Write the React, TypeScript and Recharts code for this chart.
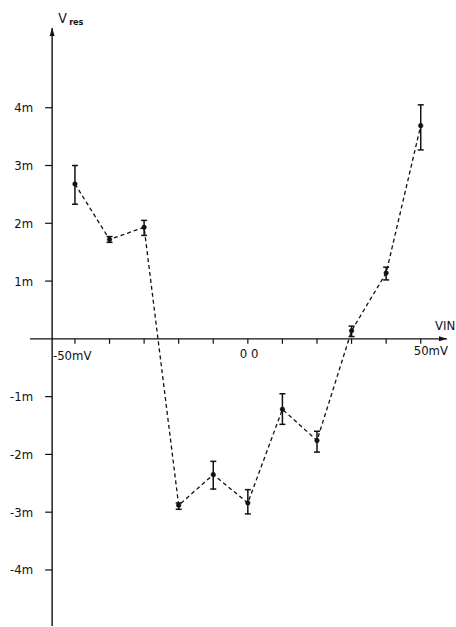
import React from "react";
import { ComposedChart, Line, XAxis, YAxis, ErrorBar, ReferenceLine, ReferenceDot } from "recharts";

const vin = [-50, -40, -30, -20, -10, 0, 10, 20, 30, 40, 50];
const vres = [2.68, 1.72, 1.93, -2.88, -2.35, -2.84, -1.22, -1.76, 0.14, 1.14, 3.69];
const errLow = [0.35, 0.05, 0.14, 0.07, 0.25, 0.19, 0.26, 0.2, 0.1, 0.12, 0.42];
const errHigh = [0.32, 0.05, 0.12, 0.04, 0.23, 0.23, 0.27, 0.16, 0.08, 0.1, 0.36];
const yTicks = [4, 3, 2, 1, -1, -2, -3, -4];
const yTickLabels = ["4m", "3m", "2m", "1m", "-1m", "-2m", "-3m", "-4m"];
const xTicks = [-50, -40, -30, -20, -10, 0, 10, 20, 30, 40, 50];
const xLabels: { v: number; text: string; dx: number; dy: number }[] = [
  { v: -50, text: "-50mV", dx: -22, dy: 21 },
  { v: 0, text: "0 0", dx: -8, dy: 19 },
  { v: 50, text: "50mV", dx: -7, dy: 16 },
];

const data = vin.map((x, i) => ({ x, y: vres[i], err: [errLow[i], errHigh[i]] }));

const X_DOMAIN: [number, number] = [-63, 57.6];
const Y_DOMAIN: [number, number] = [-4.97, 5.38];
const Y_AXIS_AT = -56.6;
const FONT = "'DejaVu Sans Condensed', 'DejaVu Sans', sans-serif";
const INK = "#111";

export default function App() {
  return (
    <div style={{ position: "absolute", left: 0, top: 0, width: 456, height: 627, background: "#fff" }}>
      <ComposedChart width={456} height={627} data={data} margin={{ top: 28, right: 9, bottom: 1, left: 30 }}>
        <XAxis dataKey="x" type="number" domain={X_DOMAIN} hide allowDataOverflow />
        <YAxis type="number" domain={Y_DOMAIN} hide allowDataOverflow />
        <ReferenceLine y={0} stroke={INK} strokeWidth={1.4} />
        <ReferenceLine x={Y_AXIS_AT} stroke={INK} strokeWidth={1.4} />
        <ReferenceDot
          x={Y_AXIS_AT}
          y={Y_DOMAIN[1]}
          ifOverflow="visible"
          shape={(p: any) => (
            <g>
              <polygon points={`${p.cx},${p.cy} ${p.cx - 2.5},${p.cy + 8} ${p.cx + 2.5},${p.cy + 8}`} fill={INK} />
              <text x={p.cx + 6} y={p.cy - 5} fontFamily={FONT} fontSize={14} fill={INK}>V</text>
              <text x={p.cx + 17} y={p.cy - 3} fontFamily={FONT} fontSize={9} fontWeight="bold" fill={INK}>res</text>
            </g>
          )}
        />
        <ReferenceDot
          x={X_DOMAIN[1]}
          y={0}
          ifOverflow="visible"
          shape={(p: any) => (
            <g>
              <polygon points={`${p.cx},${p.cy} ${p.cx - 8},${p.cy - 2.5} ${p.cx - 8},${p.cy + 2.5}`} fill={INK} />
              <text x={p.cx - 12} y={p.cy - 9} fontFamily={FONT} fontSize={13} fill={INK}>VIN</text>
            </g>
          )}
        />
        {yTicks.map((v, i) => (
          <ReferenceDot
            key={"yt" + v}
            x={Y_AXIS_AT}
            y={v}
            ifOverflow="visible"
            shape={(p: any) => (
              <g>
                <line x1={p.cx - 7} y1={p.cy} x2={p.cx} y2={p.cy} stroke={INK} strokeWidth={1.2} />
                <text x={p.cx - 19} y={p.cy + 4.5} textAnchor="end" fontFamily={FONT} fontSize={13} fill={INK}>
                  {yTickLabels[i]}
                </text>
              </g>
            )}
          />
        ))}
        {xTicks.map((v) => (
          <ReferenceDot
            key={"xt" + v}
            x={v}
            y={0}
            ifOverflow="visible"
            shape={(p: any) => (
              <line x1={p.cx} y1={p.cy} x2={p.cx} y2={p.cy + 5} stroke={INK} strokeWidth={1.2} />
            )}
          />
        ))}
        {xLabels.map((l) => (
          <ReferenceDot
            key={"xl" + l.v}
            x={l.v}
            y={0}
            ifOverflow="visible"
            shape={(p: any) => (
              <text x={p.cx + l.dx} y={p.cy + l.dy} fontFamily={FONT} fontSize={13} fill={INK}>
                {l.text}
              </text>
            )}
          />
        ))}
        <Line
          dataKey="y"
          stroke={INK}
          strokeWidth={1.3}
          strokeDasharray="4 3"
          isAnimationActive={false}
          dot={{ r: 2.3, fill: INK, stroke: INK, strokeWidth: 0.5, strokeDasharray: "" }}
          activeDot={false}
        >
          <ErrorBar dataKey="err" width={3} stroke={INK} strokeWidth={1.5} direction="y" isAnimationActive={false} />
        </Line>
      </ComposedChart>
    </div>
  );
}
